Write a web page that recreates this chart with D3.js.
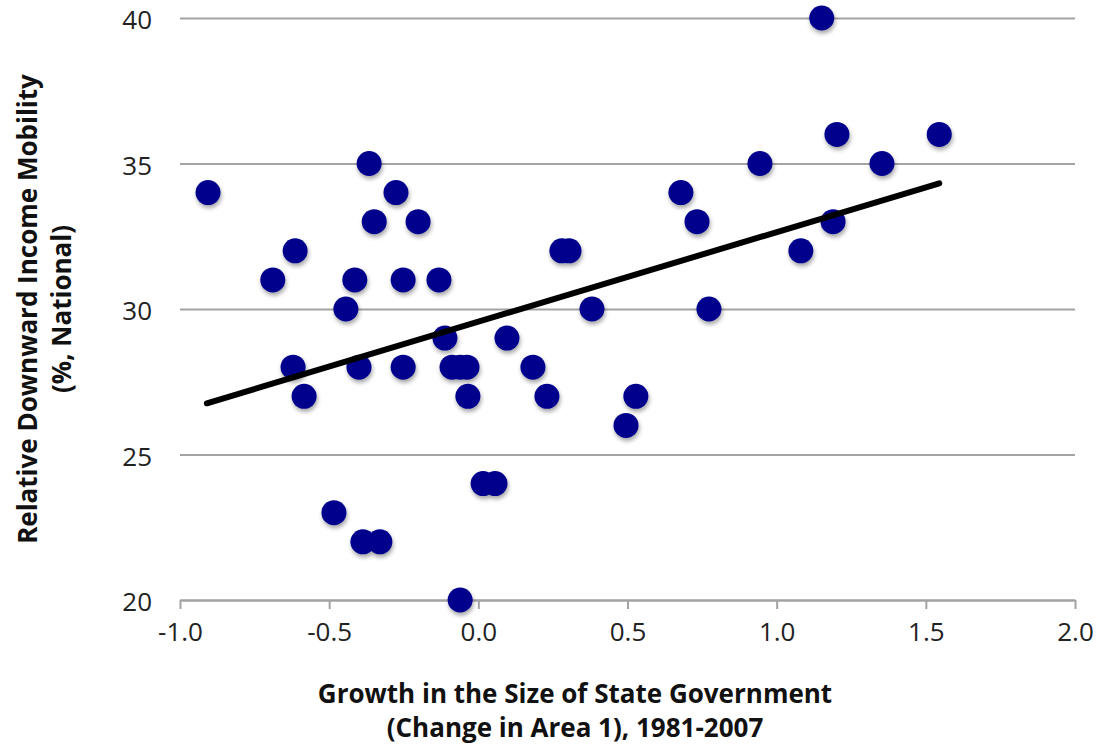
<!DOCTYPE html>
<html>
<head>
<meta charset="utf-8">
<script src="https://cdn.jsdelivr.net/npm/d3@7"></script>
<style>
  html, body { margin: 0; padding: 0; background: #fff; }
  svg { display: block; }
  .tick text { font-family: "Open Sans", sans-serif; fill: #222; }
  .title { font-family: "Open Sans", sans-serif; font-weight: bold; fill: #111; }
</style>
</head>
<body>
<svg id="chart" width="1100" height="746"></svg>
<script>
// Growth in state government size vs. relative downward income mobility, by state
const growth = [
  -0.906, -0.689, -0.614, -0.621, -0.584, -0.444, -0.414, -0.400, -0.484, -0.387,
  -0.330, -0.366, -0.349, -0.276, -0.252, -0.252, -0.202, -0.132, -0.112, -0.088,
  -0.061, -0.038, -0.035, -0.061, 0.016, 0.056, 0.096, 0.183, 0.230, 0.280,
  0.304, 0.381, 0.495, 0.528, 0.679, 0.733, 0.773, 0.944, 1.081, 1.151,
  1.202, 1.189, 1.353, 1.545
];
const mobility = [
  34, 31, 32, 28, 27, 30, 31, 28, 23, 22,
  22, 35, 33, 34, 31, 28, 33, 31, 29, 28,
  28, 28, 27, 20, 24, 24, 29, 28, 27, 32,
  32, 30, 26, 27, 34, 33, 30, 35, 32, 40,
  36, 33, 35, 36
];
// Fitted linear trend, endpoints
const trendX = [-0.91, 1.545];
const trendY = [26.76, 34.32];

const xTicks = [-1.0, -0.5, 0.0, 0.5, 1.0, 1.5, 2.0];
const yTicks = [20, 25, 30, 35, 40];

const xTitle = ["Growth in the Size of State Government", "(Change in Area 1), 1981-2007"];
const yTitle = ["Relative Downward Income Mobility", "(%, National)"];

const svg = d3.select("#chart");
const plotL = 180, plotR = 1075, plotT = 18, plotB = 600;

const x = d3.scaleLinear().domain([-1, 2]).range([plotL, plotR]);
const y = d3.scaleLinear().domain([20, 40]).range([plotB, plotT]);

// marker shadow
const defs = svg.append("defs");
const f = defs.append("filter").attr("id", "shadow")
  .attr("x", "-50%").attr("y", "-50%").attr("width", "200%").attr("height", "200%");
f.append("feDropShadow").attr("dx", 1).attr("dy", 3).attr("stdDeviation", 2)
  .attr("flood-color", "#000").attr("flood-opacity", 0.35);

// horizontal gridlines with y labels
const yAxis = d3.axisLeft(y).tickValues(yTicks).tickSize(-(plotR - plotL))
  .tickPadding(28).tickFormat(d3.format("d"));
const gy = svg.append("g").attr("transform", `translate(${plotL},0)`).call(yAxis);
gy.select(".domain").remove();
gy.selectAll(".tick line").attr("stroke", "#a3a3a3").attr("stroke-width", 2);
gy.selectAll(".tick text").attr("font-size", 26).attr("dy", "0.42em");

// bottom axis (plain hyphen for negatives)
const fmt = d3.format(".1f");
const xAxis = d3.axisBottom(x).tickValues(xTicks).tickSize(9).tickSizeOuter(0)
  .tickPadding(14).tickFormat(d => fmt(d).replace("\u2212", "-"));
const gx = svg.append("g").attr("transform", `translate(0,${plotB})`).call(xAxis);
gx.select(".domain").attr("stroke", "#a3a3a3").attr("stroke-width", 2);
gx.selectAll(".tick line").attr("stroke", "#a3a3a3").attr("stroke-width", 2);
gx.selectAll(".tick text").attr("font-size", 26).attr("dy", "0.71em");

// points
const pts = growth.map((g, i) => ({ g, m: mobility[i] }));
svg.append("g").attr("filter", "url(#shadow)")
  .selectAll("circle").data(pts).join("circle")
  .attr("cx", d => x(d.g)).attr("cy", d => y(d.m)).attr("r", 12.5)
  .attr("fill", "#00008c");

// trend line
const line = d3.line().x(d => x(d[0])).y(d => y(d[1]));
svg.append("path")
  .datum(trendX.map((v, i) => [v, trendY[i]]))
  .attr("d", line).attr("fill", "none").attr("stroke", "#000")
  .attr("stroke-width", 6).attr("stroke-linecap", "round");

// axis titles
svg.append("text").attr("class", "title").attr("text-anchor", "middle")
  .attr("font-size", 26)
  .selectAll("tspan").data(xTitle).join("tspan")
  .attr("x", 575).attr("y", (d, i) => 703 + i * 34).text(d => d);

svg.append("text").attr("class", "title").attr("text-anchor", "middle")
  .attr("font-size", 26)
  .attr("transform", `translate(0,${(plotT + plotB) / 2}) rotate(-90)`)
  .selectAll("tspan").data(yTitle).join("tspan")
  .attr("x", 0).attr("y", (d, i) => 37 + i * 34).text(d => d);
</script>
</body>
</html>
